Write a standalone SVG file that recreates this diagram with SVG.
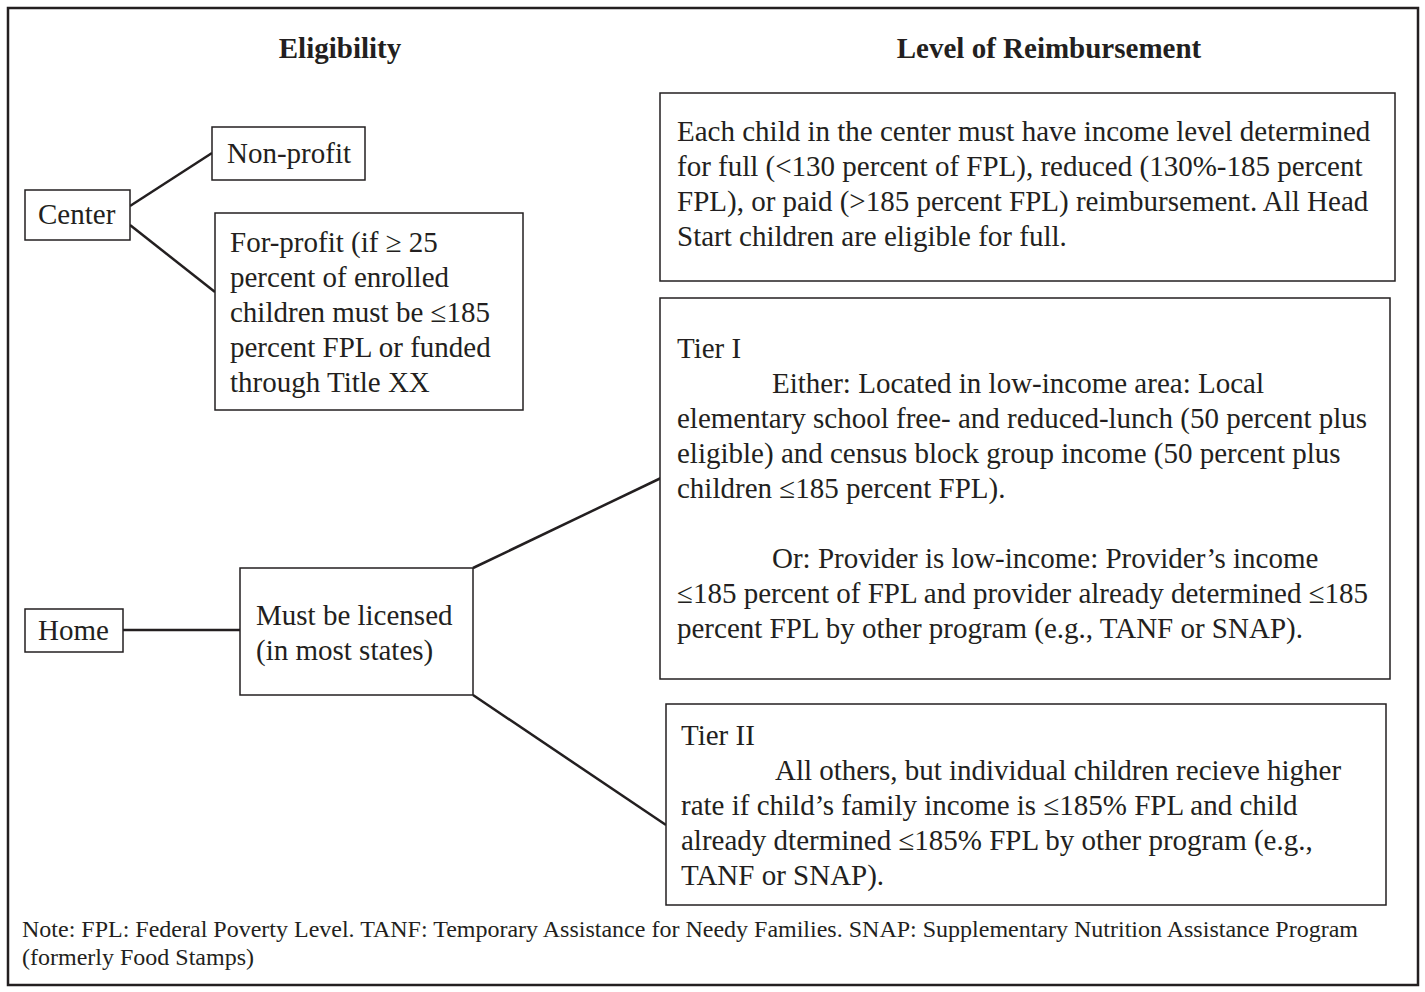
<svg xmlns="http://www.w3.org/2000/svg" width="1425" height="992" viewBox="0 0 1425 992">
<style>
.t{font-family:"Liberation Serif","Times New Roman",serif;font-size:29px;fill:#231f20}
.h{font-family:"Liberation Serif","Times New Roman",serif;font-size:29px;font-weight:bold;fill:#231f20}
.n{font-family:"Liberation Serif","Times New Roman",serif;font-size:24px;fill:#231f20}
.b{fill:#fff;stroke:#231f20;stroke-width:1.5}
.c{stroke:#231f20;stroke-width:2.5;fill:none}
</style>
<rect x="0" y="0" width="1425" height="992" fill="#fff"/>
<rect x="8" y="8" width="1410" height="977" fill="none" stroke="#231f20" stroke-width="2.5"/>
<text class="h" x="340" y="58" text-anchor="middle">Eligibility</text>
<text class="h" x="1049" y="58" text-anchor="middle">Level of Reimbursement</text>
<g id="connectors">
<line class="c" x1="130" y1="206" x2="212" y2="153"/>
<line class="c" x1="130" y1="225" x2="215" y2="292"/>
<line class="c" x1="123" y1="630" x2="240" y2="630"/>
<line class="c" x1="473" y1="568" x2="661" y2="478"/>
<line class="c" x1="473" y1="695" x2="666" y2="825"/>
</g>
<g id="center">
<rect class="b" x="25" y="190" width="105" height="50"/>
<text class="t" x="38" y="224">Center</text>
</g>
<g id="nonprofit">
<rect class="b" x="212" y="127" width="153" height="53"/>
<text class="t" x="227" y="163">Non-profit</text>
</g>
<g id="forprofit">
<rect class="b" x="215" y="213" width="308" height="197"/>
<text class="t" x="230" y="252">For-profit (if ≥ 25</text>
<text class="t" x="230" y="287">percent of enrolled</text>
<text class="t" x="230" y="322">children must be ≤185</text>
<text class="t" x="230" y="357">percent FPL or funded</text>
<text class="t" x="230" y="392">through Title XX</text>
</g>
<g id="home">
<rect class="b" x="25" y="609" width="98" height="43"/>
<text class="t" x="38" y="640">Home</text>
</g>
<g id="licensed">
<rect class="b" x="240" y="568" width="233" height="127"/>
<text class="t" x="256" y="625">Must be licensed</text>
<text class="t" x="256" y="660">(in most states)</text>
</g>
<g id="centerReimb">
<rect class="b" x="660" y="93" width="735" height="188"/>
<text class="t" x="677" y="141">Each child in the center must have income level determined</text>
<text class="t" x="677" y="176">for full (&lt;130 percent of FPL), reduced (130%-185 percent</text>
<text class="t" x="677" y="211">FPL), or paid (&gt;185 percent FPL) reimbursement. All Head</text>
<text class="t" x="677" y="246">Start children are eligible for full.</text>
</g>
<g id="tier1">
<rect class="b" x="660" y="298" width="730" height="381"/>
<text class="t" x="677" y="358">Tier I</text>
<text class="t" x="772" y="393">Either: Located in low-income area: Local</text>
<text class="t" x="677" y="428">elementary school free- and reduced-lunch (50 percent plus</text>
<text class="t" x="677" y="463">eligible) and census block group income (50 percent plus</text>
<text class="t" x="677" y="498">children ≤185 percent FPL).</text>
<text class="t" x="772" y="568">Or: Provider is low-income: Provider’s income</text>
<text class="t" x="677" y="603">≤185 percent of FPL and provider already determined ≤185</text>
<text class="t" x="677" y="638">percent FPL by other program (e.g., TANF or SNAP).</text>
</g>
<g id="tier2">
<rect class="b" x="666" y="704" width="720" height="201"/>
<text class="t" x="681" y="745">Tier II</text>
<text class="t" x="775" y="780">All others, but individual children recieve higher</text>
<text class="t" x="681" y="815">rate if child’s family income is ≤185% FPL and child</text>
<text class="t" x="681" y="850">already dtermined ≤185% FPL by other program (e.g.,</text>
<text class="t" x="681" y="885">TANF or SNAP).</text>
</g>
<g id="note">
<text class="n" x="22" y="937">Note: FPL: Federal Poverty Level. TANF: Temporary Assistance for Needy Families. SNAP: Supplementary Nutrition Assistance Program</text>
<text class="n" x="22" y="965">(formerly Food Stamps)</text>
</g>
</svg>
